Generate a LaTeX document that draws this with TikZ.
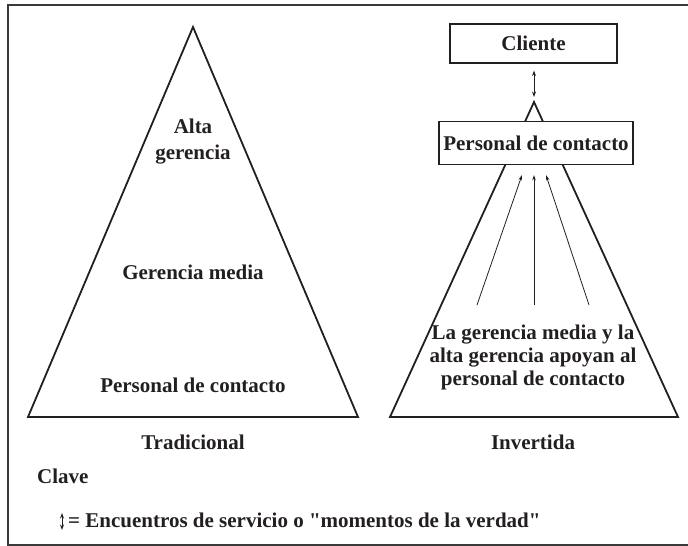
\documentclass[tikz,border=0pt]{standalone}
\usepackage{fontspec}
\setmainfont{Liberation Serif}[Ligatures=TeXOff]
\usetikzlibrary{arrows.meta}
\definecolor{ink}{HTML}{231F20}
\definecolor{framec}{HTML}{3A3A3A}
\tikzset{
  lbl/.style={font=\bfseries\fontsize{21}{23}\selectfont, text=ink, inner sep=0pt},
  boxnode/.style={draw=ink, line width=1.2pt, fill=white, font=\bfseries\fontsize{21}{23}\selectfont, text=ink, inner sep=0pt},
  tri/.style={draw=ink, line width=1.8pt, line join=miter},
  thinarrow/.style={draw=ink, line width=0.8pt, -{Stealth[length=5.5pt,width=3.6pt]}},
  dblarrow/.style={draw=ink, line width=0.9pt, {Stealth[length=5.5pt,width=4pt]}-{Stealth[length=5.5pt,width=4pt]}}
}
\begin{document}
\begin{tikzpicture}[x=1pt,y=-1pt]
\useasboundingbox (0,0) rectangle (688,546);
% frame
\draw[framec, line width=2pt] (688,5) -- (8,5) -- (8,545) -- (688,545);
% left triangle
\coordinate (LA) at (193,27);
\coordinate (LL) at (28,417);
\coordinate (LR) at (358,417);
\draw[tri] (LA) -- (LL) -- (LR) -- cycle;
\node[lbl, align=center, anchor=base] (alta) at (193,159) {Alta\\[3pt]gerencia};
\node[lbl, anchor=base] (media) at (193,279) {Gerencia media};
\node[lbl, anchor=base] (pcl) at (193,392) {Personal de contacto};
\node[lbl, anchor=base] (trad) at (193,449) {Tradicional};
% right triangle
\coordinate (RA) at (534,102);
\coordinate (RL) at (390,417);
\coordinate (RR) at (678,417);
\draw[tri] (RA) -- (RL) -- (RR) -- cycle;
\node[boxnode, minimum width=194pt, minimum height=43pt] (pcr) at (536,143) {Personal de contacto};
\node[boxnode, minimum width=167pt, minimum height=39pt] (cli) at (533.5,43.5) {Cliente};
\draw[dblarrow, shorten <=7pt, shorten >=5pt] (cli.south -| RA) -- (RA);
% support arrows
\coordinate (b1) at (477,305);
\coordinate (b2) at (534,305);
\coordinate (b3) at (589,305);
\coordinate (t1) at (522,175);
\coordinate (t2) at (534,175);
\coordinate (t3) at (546,175);
\draw[thinarrow] (b1) -- (t1);
\draw[thinarrow] (b2) -- (t2);
\draw[thinarrow] (b3) -- (t3);
\node[lbl, align=center] (apoyo) at (533,357) {La gerencia media y la\\alta gerencia apoyan al\\personal de contacto};
\node[lbl, anchor=base] (inv) at (533,449) {Invertida};
% legend
\node[lbl, anchor=base west] (clave) at (37,483) {Clave};
\coordinate (k1) at (62,513);
\coordinate (k2) at (62,530);
\draw[dblarrow] (k1) -- (k2);
\node[lbl, anchor=base west] (leyenda) at (68,527) {= Encuentros de servicio o "momentos de la verdad"};
\end{tikzpicture}
\end{document}
